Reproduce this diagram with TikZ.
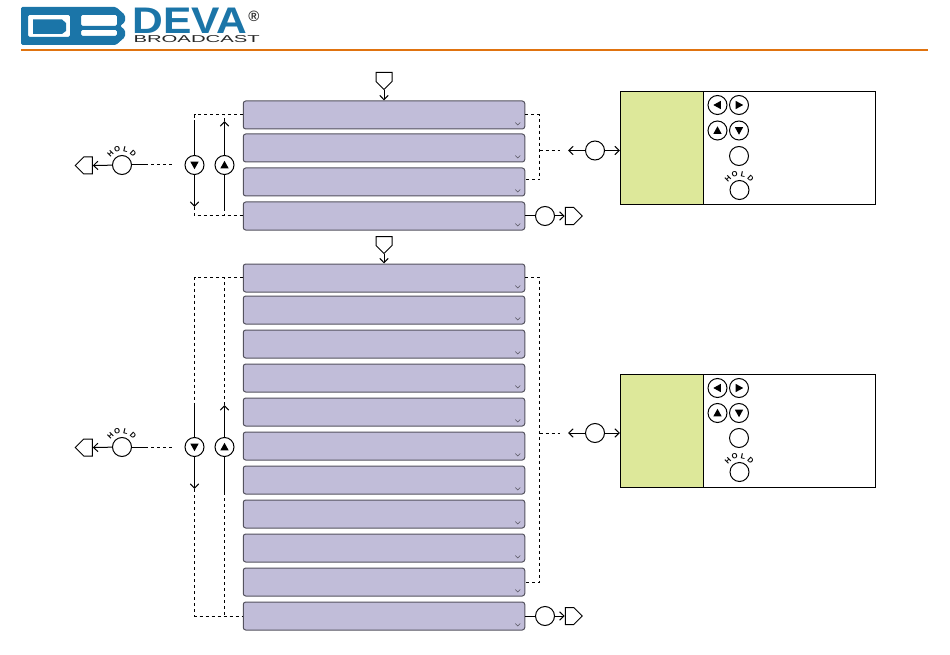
\documentclass[tikz,border=0pt]{standalone}
\usepackage{fontspec}
\setmainfont{Liberation Sans}
\newfontfamily\devafont[FakeStretch=1.15]{Liberation Sans}
\newfontfamily\broadfont[FakeStretch=2.03]{Liberation Sans}
\usetikzlibrary{arrows.meta,calc,shapes.symbols}
\definecolor{logoblue}{HTML}{1B75A8}
\definecolor{rowfill}{HTML}{C1BDD9}
\definecolor{rowline}{HTML}{55535F}
\definecolor{panelgreen}{HTML}{DDE89A}
\definecolor{ruleorange}{HTML}{E0730F}
\tikzset{>={Straight Barb[length=4.5pt,width=8.5pt]}}
\tikzset{
  rowbox/.style={draw=rowline,fill=rowfill,rounded corners=2.5pt,minimum width=281.5pt,minimum height=28pt,inner sep=0pt},
  btn/.style={draw,circle,fill=white,minimum size=19pt,inner sep=0pt},
  offpage/.style={draw,fill=white,signal,signal to=#1,inner sep=0pt,minimum width=17pt,minimum height=17pt},
  entrypage/.style={offpage=south,minimum width=16pt,minimum height=9pt,anchor=north},
  dashline/.style={dash pattern=on 3pt off 3pt},
  holdtext/.style={font=\bfseries\fontsize{7.5}{7.5}\selectfont,inner sep=0pt,text height=5.5pt,text depth=0pt},
}
% black triangle inside a button
\newcommand{\tri}[2]{\fill[shift={(#1)},rotate=#2] (4.2,0) -- (-3.4,4.2) -- (-3.4,-4.2) -- cycle;}
% the word above a button, one letter at a time
\newcommand{\holdword}[1]{
  \foreach \l/\a in {H/135,O/107,L/77,D/47}
    \node[holdtext,rotate=\a-90,name=#1-\l] at ($(#1)+(\a:16.5pt)$) {\l};
}
\begin{document}
\begin{tikzpicture}[x=1pt,y=-1pt,line width=1pt]
  \useasboundingbox (0,0) rectangle (950,655);
  % logo
  \fill[logoblue,even odd rule,rounded corners=1.5pt] (21,7) -- (116,7) -- (125,15) -- (125,22) -- (120,26) -- (125,30) -- (125,37) -- (116,45) -- (21,45) -- cycle
    (28,15) rectangle (70,37)
    (81,15) -- (117,15) -- (117,26) -- (81,26) -- cycle
    (81,30) -- (117,30) -- (117,36) -- (81,36) -- cycle;
  \fill[logoblue] (33,19.5) -- (62,19.5) -- (66,23) -- (66,31) -- (62,34) -- (33,34) -- cycle;
  \node[anchor=base west,inner sep=0pt,text depth=0pt,text=logoblue] (deva) at (132,34) {\devafont\bfseries\fontsize{37}{37}\selectfont DEVA};
  \node[anchor=base west,inner sep=0pt,text height=7pt,text=black!85] (broadcast) at (133,43) {\broadfont\fontsize{10}{10}\selectfont BROADCAST};
  \node[inner sep=0pt,text=black!80] (regmark) at (254,16) {\bfseries\fontsize{15}{15}\selectfont\textregistered};
  \draw[ruleorange,line width=1.5pt] (21,50) -- (928,50);

  % menu rows
  \foreach \n/\y in {r1/115,r2/148,r3/182,r4/216,s1/278,s2/310,s3/344,s4/378,s5/412,s6/446,s7/480,s8/514,s9/548,s10/582,s11/616} {
    \node[rowbox] (\n) at (384,\y) {};
    \draw[rowline,line width=.6pt] ($(\n.south east)+(-10,-7)$) -- ++(2.5,2.5) -- ++(2.5,-2.5);
  }

  % entry points
  \node[entrypage] (in1) at (384,72) {};
  \node[entrypage] (in2) at (384,236) {};
  \draw[->] (in1.south) -- (r1.north);
  \draw[->] (in2.south) -- (s1.north);

  % first group
  \node[btn] (dn1) at (194.5,165) {};
  \node[btn] (up1) at (224.5,165) {};
  \tri{dn1}{-90} \tri{up1}{90}
  \coordinate (dna) at (194.5,120);
  \coordinate (dnb) at (194.5,207);
  \coordinate (upa) at (224.5,121);
  \coordinate (upb) at (224.5,208);
  \draw[dashline] (r1.west) -- (r1.west -| dna) -- (dna);
  \draw[dashline] (upa) -- (r1.west -| upa);
  \draw[dashline] (dnb) -- (r4.west -| dnb) -- (r4.west);
  \draw[dashline] (upb) -- (r4.west -| upb);
  \draw (dna) -- (dn1);
  \draw[->] (dn1) -- (dnb);
  \draw[->] (up1) -- (upa);
  \draw (up1) -- (upb);

  \node[btn] (hold1) at (122,165) {};
  \holdword{hold1}
  \node[offpage=west] (back1) at (88,165.5) {};
  \coordinate (hd1) at (145,165);
  \coordinate (he1) at (173,165);
  \draw[->] (hold1) -- (back1.east);
  \draw (hold1) -- (hd1);
  \draw[dashline] (hd1) -- (he1);

  \node[btn] (ok1) at (595,150.5) {};
  \coordinate (ja1) at (539.5,115);
  \coordinate (jb1) at (539.5,180);
  \coordinate (jc1) at (539.5,150.5);
  \coordinate (je1) at (560,150.5);
  \coordinate (ta1) at (568,150.5);
  \coordinate (pa1) at (620,150.5);
  \draw[dashline] (r1.east) -- (ja1) -- (jb1) -- (r3.east |- jb1);
  \draw[dashline] (jc1) -- (je1);
  \draw[->] (ok1) -- (ta1);

  \node[btn] (next1) at (545,216) {};
  \node[offpage=east] (out1) at (569.5,216) {};
  \draw (r4.east) -- (next1);
  \draw[->] (next1) -- (out1.west);

  % second group
  \node[btn] (dn2) at (194.5,447) {};
  \node[btn] (up2) at (224.5,447) {};
  \tri{dn2}{-90} \tri{up2}{90}
  \coordinate (tl2) at (243,277);
  \coordinate (dnc) at (194.5,405);
  \coordinate (dnd) at (194.5,489);
  \coordinate (upc) at (224.5,405);
  \coordinate (upd) at (224.5,492);
  \draw[dashline] (tl2) -- (tl2 -| dnc) -- (dnc);
  \draw[dashline] (upc) -- (tl2 -| upc);
  \draw[dashline] (dnd) -- (s11.west -| dnd) -- (s11.west);
  \draw[dashline] (upd) -- (s11.west -| upd);
  \draw (dnc) -- (dn2);
  \draw[->] (dn2) -- (dnd);
  \draw[->] (up2) -- (upc);
  \draw (up2) -- (upd);

  \node[btn] (hold2) at (122,447) {};
  \holdword{hold2}
  \node[offpage=west] (back2) at (88,447.5) {};
  \coordinate (hd2) at (145,447);
  \coordinate (he2) at (173,447);
  \draw[->] (hold2) -- (back2.east);
  \draw (hold2) -- (hd2);
  \draw[dashline] (hd2) -- (he2);

  \node[btn] (ok2) at (595,433) {};
  \coordinate (ja2) at (539.5,277);
  \coordinate (jb2) at (539.5,582);
  \coordinate (jc2) at (539.5,433);
  \coordinate (je2) at (560,433);
  \coordinate (ta2) at (568,433);
  \coordinate (pa2) at (620,433);
  \draw[dashline] (s1.east |- ja2) -- (ja2) -- (jb2) -- (s10.east);
  \draw[dashline] (jc2) -- (je2);
  \draw[->] (ok2) -- (ta2);

  \node[btn] (next2) at (545,616) {};
  \node[offpage=east] (out2) at (569.5,616) {};
  \draw (s11.east) -- (next2);
  \draw[->] (next2) -- (out2.west);

  % key panels
  \foreach \t/\b in {91.5/205,374.5/487} {
    \draw[fill=panelgreen] (620,\t) rectangle (703.5,\b);
    \draw (703.5,\t) rectangle (875,\b);
  }
  \draw[->] (ok1) -- (pa1);
  \draw[->] (ok2) -- (pa2);
  \foreach \p/\y in {a/105,b/388} {
    \node[btn] (\p l) at (717.5,\y) {};
    \node[btn] (\p r) at (739,\y) {};
    \tri{\p l}{180} \tri{\p r}{0}
  }
  \foreach \p/\y in {a/130.5,b/413} {
    \node[btn] (\p u) at (717.5,\y) {};
    \node[btn] (\p d) at (739,\y) {};
    \tri{\p u}{90} \tri{\p d}{-90}
  }
  \node[btn] (aok) at (739,156) {};
  \node[btn] (bok) at (739,438) {};
  \node[btn] (ahold) at (739.5,190) {};
  \node[btn] (bhold) at (739.5,472) {};
  \holdword{ahold}
  \holdword{bhold}
\end{tikzpicture}
\end{document}
